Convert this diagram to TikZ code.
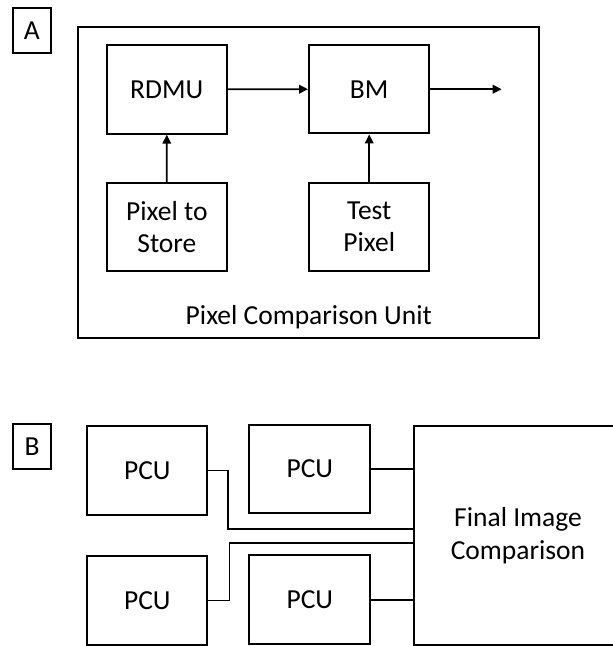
\documentclass[tikz,border=0pt]{standalone}
\usepackage{fontspec}
\setmainfont{Carlito}
\usetikzlibrary{arrows.meta}
\tikzset{
  txt/.style={font=\fontsize{27.5}{32.5}\selectfont, align=center, inner sep=0pt},
  blk/.style={txt, draw, line width=2pt},
  lbl/.style={blk, minimum width=38.6pt, minimum height=45pt},
  conn/.style={line width=1.8pt},
  arr/.style={conn, -{Triangle[length=9pt,width=8.5pt]}}
}
\begin{document}
\begin{tikzpicture}[x=1pt,y=-1pt]
\clip (0,0) rectangle (613,646);
% Part A
\node[lbl] (labA) at (31.8,30.7) {A};
\node[blk, minimum width=461pt, minimum height=310.4pt] (pcuA) at (308.8,182.5) {};
\node[txt, anchor=base] (pcuLabel) at (308.8,324) {Pixel Comparison Unit};
\node[blk, minimum width=120pt, minimum height=88.7pt] (rdmu) at (166.7,89.3) {RDMU};
\node[blk, minimum width=120.3pt, minimum height=88.3pt] (bm) at (369.2,89.2) {BM};
\node[blk, minimum width=120.3pt, minimum height=88pt] (ps) at (166.9,227) {Pixel to\\Store};
\node[blk, minimum width=120.3pt, minimum height=88pt] (tp) at (369.2,227) {Test\\Pixel};
\coordinate (outA) at (501.7,89.2);
\draw[arr] (rdmu) -- (bm);
\draw[arr] (bm) -- (outA);
\draw[arr] (ps) -- (rdmu);
\draw[arr] (tp) -- (bm);
% Part B
\node[lbl] (labB) at (32,446.7) {B};
\node[blk, minimum width=120pt, minimum height=89pt] (p1) at (147.3,470.5) {PCU};
\node[blk, minimum width=121pt, minimum height=88.8pt] (p2) at (309.8,469) {PCU};
\node[blk, minimum width=120pt, minimum height=89pt] (p3) at (147.3,600.5) {PCU};
\node[blk, minimum width=121pt, minimum height=89.3pt] (p4) at (309.8,599.7) {PCU};
\node[blk, minimum width=208pt, minimum height=219pt] (fic) at (518,535.5) {Final Image\\Comparison};
\coordinate (j1) at (228,529);
\coordinate (j3) at (229.5,542.7);
\draw[conn] (p1.east) -| (j1) -- (j1 -| fic.west);
\draw[conn] (p3.east) -| (j3) -- (j3 -| fic.west);
\draw[conn] (p2.east) -- (p2.east -| fic.west);
\draw[conn] (p4.east) -- (p4.east -| fic.west);
\end{tikzpicture}
\end{document}
